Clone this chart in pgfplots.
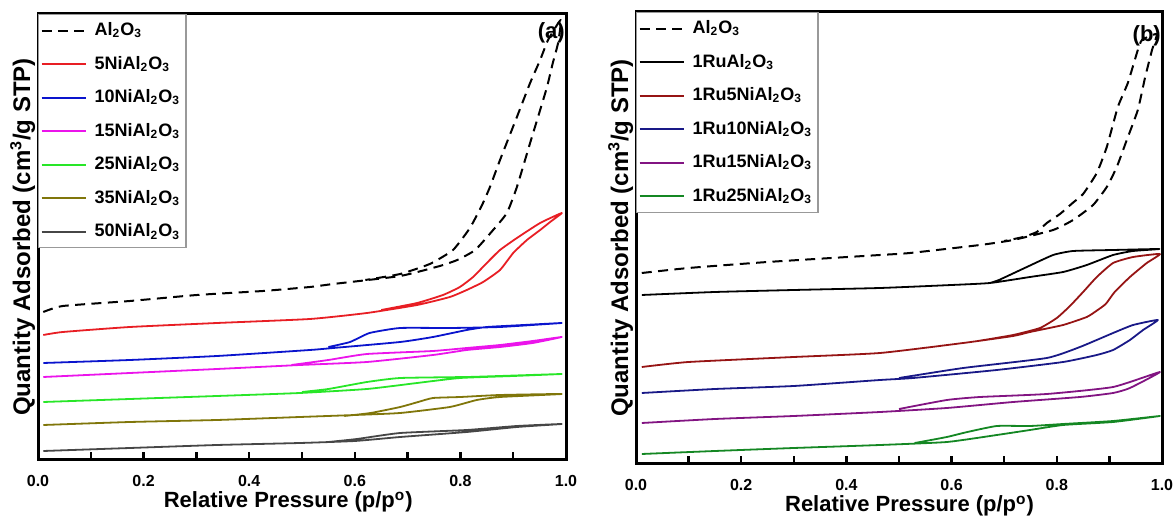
\documentclass[border=0pt]{standalone}
\usepackage{fontspec}
\setmainfont{Liberation Sans}
\usepackage{pgfplots}
\pgfplotsset{compat=1.18}
\definecolor{cRed}{RGB}{232,30,36}
\definecolor{cBlue}{RGB}{10,20,205}
\definecolor{cMag}{RGB}{235,20,235}
\definecolor{cGreen}{RGB}{40,230,40}
\definecolor{cOlive}{RGB}{128,118,10}
\definecolor{cGray}{RGB}{70,70,70}
\definecolor{cMaroon}{RGB}{150,20,20}
\definecolor{cNavy}{RGB}{25,25,135}
\definecolor{cPurple}{RGB}{130,20,130}
\definecolor{cDGreen}{RGB}{20,135,35}
\newcommand{\AlO}{Al\textsubscript{2}O\textsubscript{3}}
\pgfplotsset{
  iso/.style={
    scale only axis,
    xmin=0, xmax=1, ymin=0,
    axis line style={line width=1.5pt},
    xtick={0,0.2,0.4,0.6,0.8,1},
    xticklabels={0.0,0.2,0.4,0.6,0.8,1.0},
    minor xtick={0.1,0.3,0.5,0.7,0.9},
    xtick pos=lower,
    ytick=\empty,
    tick align=inside,
    major tick length=4pt, minor tick length=4pt,
    every tick/.style={black, line width=1.2pt},
    xticklabel style={font=\bfseries\fontsize{8}{9}\selectfont, anchor=base, yshift=-13.5pt},
    xlabel={Relative Pressure (p/p\textsuperscript{o})},
    ylabel={Quantity Adsorbed (cm\textsuperscript{3}/g STP)},
    every axis x label/.style={at={(axis description cs:0.5,0)}, anchor=base, yshift=-24pt, font=\bfseries\fontsize{11}{12}\selectfont},
    every axis y label/.style={at={(axis description cs:-0.015,0.5)}, rotate=90, anchor=base, font=\bfseries\fontsize{12}{13}\selectfont},
    legend cell align=left,
    legend style={at={(0,1)}, anchor=north west, draw=gray!80, line width=0.6pt,
      font=\bfseries\fontsize{9}{10}\selectfont, inner xsep=1pt, inner ysep=2pt, row sep=4.75pt},
    legend image code/.code={\draw[#1] (0pt,0pt) -- (22pt,0pt); \path (24pt,0pt);},
    every axis plot/.append style={line width=0.9pt, line join=round, smooth, tension=0.3},
  },
  dsh/.style={black, line width=1pt, dash pattern=on 5pt off 3.2pt},
}
\begin{document}
\begin{tikzpicture}
\path[use as bounding box] (0,0) rectangle (588pt,261.5pt);
% ---------------- panel (a)
\begin{axis}[iso, at={(19pt,31.5pt)}, anchor=south west, width=264pt, height=223pt, ymax=446,
  every axis x label/.append style={at={(axis description cs:0.474,0)}}]
\addplot[dsh] coordinates {
(0.01,148)(0.047,154)(0.174,159)(0.301,165)(0.426,169)(0.515,173)(0.559,176)(0.686,184)(0.761,194)(0.794,200)(0.828,210)(0.862,230)(0.888,247)(0.907,273)(0.932,317)(0.947,343)(0.964,373)(0.975,397)(0.985,417)(0.99,440)
(0.966,420)(0.951,400)(0.932,377)(0.907,343)(0.875,300)(0.856,273)(0.841,255)(0.818,232)(0.786,210)(0.742,196)(0.686,186)(0.62,180)};
\addlegendentry{\AlO}
\addplot[cRed] coordinates {
(0.01,125)(0.047,128)(0.174,133)(0.339,137)(0.515,141)(0.623,147)(0.718,155)(0.780,163)(0.812,170)(0.843,178)(0.875,190)(0.900,207)(0.926,220)(0.951,230)(0.970,238)(0.992,247)
(0.951,237)(0.907,222)(0.875,210)(0.850,197)(0.824,183)(0.799,173)(0.767,165)(0.718,157)(0.65,150)};
\addlegendentry{5Ni\AlO}
\addplot[cBlue] coordinates {
(0.01,97)(0.174,100)(0.339,104)(0.515,110)(0.559,112)(0.686,118)(0.748,123)(0.812,130)(0.850,133)(0.920,135)(0.992,137)
(0.875,133)(0.780,132)(0.686,132)(0.628,127)(0.591,118)(0.55,113)};
\addlegendentry{10Ni\AlO}
\addplot[cMag] coordinates {
(0.01,83)(0.174,87)(0.339,91)(0.496,95)(0.623,98)(0.748,105)(0.812,110)(0.875,113)(0.937,117)(0.992,123)
(0.937,119)(0.875,115)(0.812,112)(0.748,109)(0.623,106)(0.55,100)(0.48,95)};
\addlegendentry{15Ni\AlO}
\addplot[cGreen] coordinates {
(0.01,58)(0.174,61)(0.339,64)(0.496,67)(0.623,71)(0.718,77)(0.799,82)(0.9,84)(0.992,86)
(0.875,84)(0.812,83)(0.686,82)(0.623,78)(0.55,71)(0.5,68)};
\addlegendentry{25Ni\AlO}
\addplot[cOlive] coordinates {
(0.01,35)(0.174,38)(0.339,40)(0.496,43)(0.6,45)(0.686,47)(0.780,53)(0.831,60)(0.875,63)(0.992,66)
(0.875,65)(0.8,63)(0.748,62)(0.72,58)(0.686,53)(0.63,47)(0.58,44)};
\addlegendentry{35Ni\AlO}
\addplot[cGray] coordinates {
(0.01,9)(0.174,12)(0.339,15)(0.496,17)(0.6,19)(0.686,23)(0.812,28)(0.907,33)(0.992,36)
(0.907,34)(0.812,30)(0.686,27)(0.604,21)(0.55,18)};
\addlegendentry{50Ni\AlO}
\node[font=\bfseries\fontsize{11}{12}\selectfont] at (axis description cs:0.972,0.957) {(a)};
\end{axis}
% ---------------- panel (b)
\begin{axis}[iso, at={(318pt,29.5pt)}, anchor=south west, width=263pt, height=226pt, ymax=452,
  every axis x label/.append style={at={(axis description cs:0.52,0)}}]
\addplot[dsh] coordinates {
(0.011,191)(0.1,196)(0.25,202)(0.464,209)(0.521,211)(0.654,219)(0.717,224)(0.793,234)(0.831,244)(0.869,259)(0.895,277)(0.914,297)(0.933,324)(0.954,354)(0.968,387)(0.981,414)(0.99,430)
(0.962,424)(0.954,414)(0.935,381)(0.916,357)(0.895,317)(0.876,291)(0.850,270)(0.830,261)(0.806,250)(0.781,241)(0.762,232)(0.736,227)(0.7,223)};
\addlegendentry{\AlO}
\addplot[black] coordinates {
(0.011,169)(0.15,172)(0.3,174)(0.464,176)(0.6,179)(0.673,181)(0.749,187)(0.812,192)(0.857,199)(0.907,209)(0.945,213)(0.995,215)
(0.907,214)(0.831,213)(0.793,209)(0.743,197)(0.69,184)(0.673,181)};
\addlegendentry{1Ru\AlO}
\addplot[cMaroon] coordinates {
(0.011,97)(0.1,102)(0.3,107)(0.464,111)(0.622,121)(0.717,128)(0.749,132)(0.812,139)(0.857,147)(0.875,153)(0.893,160)(0.91,172)(0.939,187)(0.971,201)(0.996,210)
(0.945,207)(0.907,201)(0.876,187)(0.85,172)(0.825,158)(0.8,146)(0.768,136)(0.717,129)(0.65,123)};
\addlegendentry{1Ru5Ni\AlO}
\addplot[cNavy] coordinates {
(0.011,71)(0.15,75)(0.3,78)(0.464,84)(0.527,86)(0.686,94)(0.812,102)(0.876,109)(0.907,114)(0.939,124)(0.964,134)(0.992,144)
(0.945,139)(0.907,131)(0.844,117)(0.781,106)(0.622,96)(0.5,86)};
\addlegendentry{1Ru10Ni\AlO}
\addplot[cPurple] coordinates {
(0.011,41)(0.15,45)(0.3,48)(0.464,52)(0.591,56)(0.717,62)(0.844,67)(0.907,71)(0.939,76)(0.996,92)
(0.907,77)(0.781,70)(0.654,67)(0.591,64)(0.5,55)};
\addlegendentry{1Ru15Ni\AlO}
\addplot[cDGreen] coordinates {
(0.011,10)(0.15,13)(0.3,16)(0.464,19)(0.591,22)(0.686,29)(0.749,34)(0.812,39)(0.907,42)(0.996,48)
(0.907,43)(0.812,40)(0.749,38)(0.686,38)(0.63,32)(0.591,27)(0.53,21)};
\addlegendentry{1Ru25Ni\AlO}
\node[font=\bfseries\fontsize{11}{12}\selectfont] at (axis description cs:0.971,0.947) {(b)};
\end{axis}
\end{tikzpicture}
\end{document}
